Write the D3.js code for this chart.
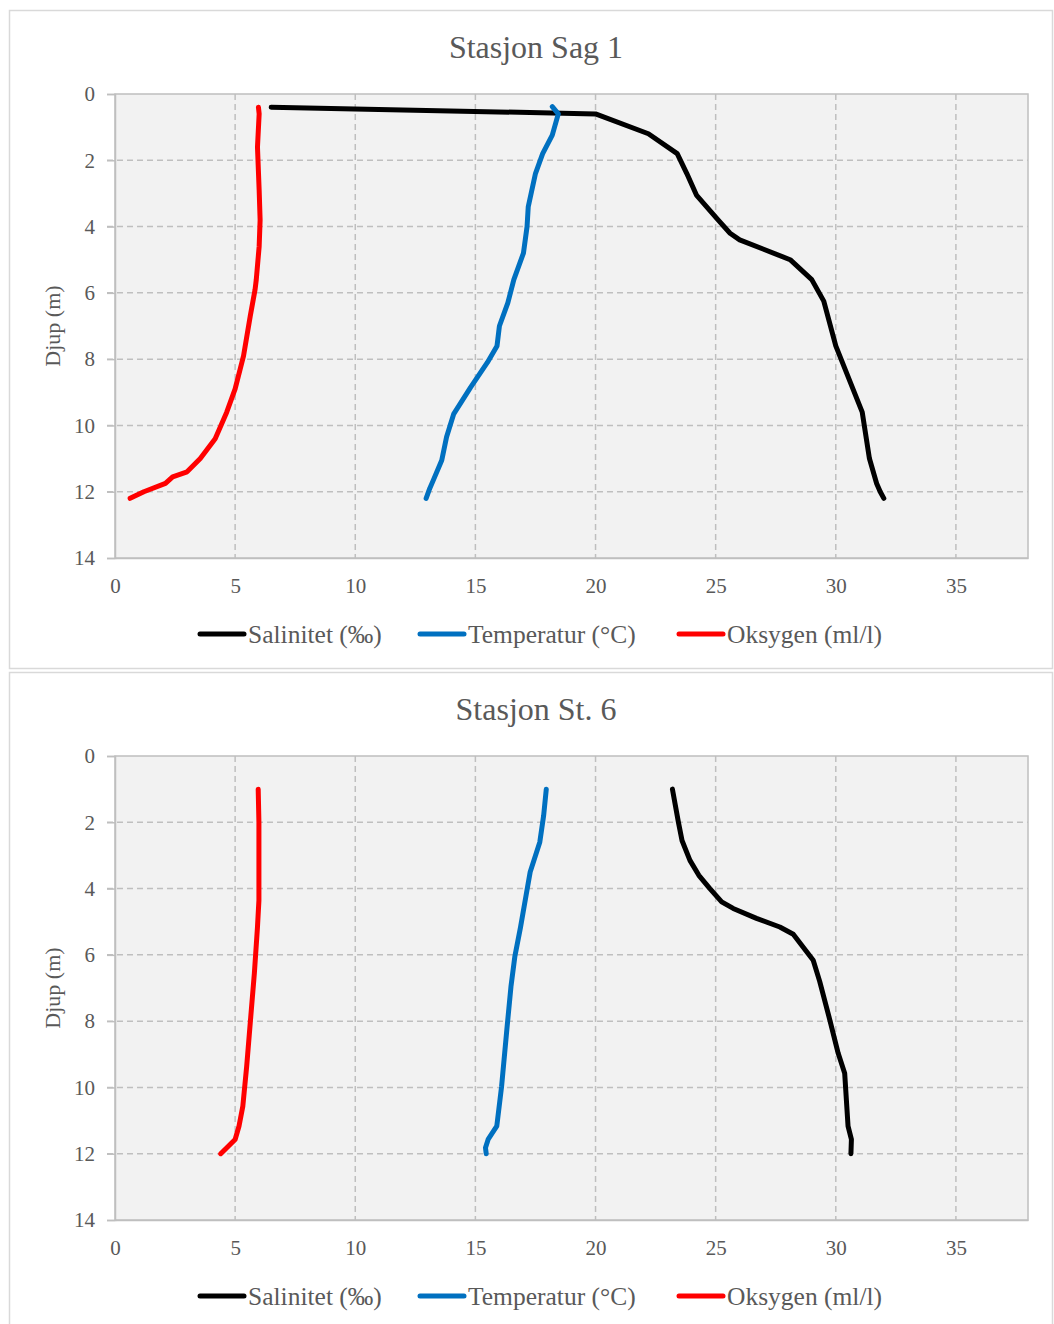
<!DOCTYPE html>
<html><head><meta charset="utf-8">
<script src="https://cdn.jsdelivr.net/npm/d3@7"></script>
<style>body{margin:0;background:#fff}svg{display:block}text{font-family:"Liberation Serif","Times New Roman",serif;fill:#595959}</style>
</head><body><svg id="c" width="1054" height="1324"></svg>
<script>
const titles = ["Stasjon Sag 1", "Stasjon St. 6"];
const seriesNames = ["Salinitet (‰)", "Temperatur (°C)", "Oksygen (ml/l)"];
const seriesColors = ["#000000", "#0070c0", "#ff0000"];
const xTicks = [0,5,10,15,20,25,30,35];
const yTicks = [0,2,4,6,8,10,12,14];
const yLabel = "Djup (m)";
// [value, depth]
const sag1Salinitet = [[6.5,0.4],[20.0,0.6],[22.2,1.2],[23.4,1.8],[23.8,2.4],[24.2,3.05],[25.1,3.8],[25.6,4.2],[26.0,4.4],[28.1,5.0],[29.0,5.6],[29.5,6.25],[30.0,7.6],[31.1,9.6],[31.4,11.0],[31.7,11.75],[31.85,12.0],[32.0,12.2]];
const sag1Temperatur = [[18.2,0.38],[18.45,0.6],[18.2,1.24],[17.8,1.8],[17.5,2.4],[17.2,3.4],[17.15,4.0],[17.0,4.8],[16.6,5.6],[16.35,6.3],[16.0,7.0],[15.9,7.6],[15.5,8.1],[14.8,8.85],[14.1,9.65],[13.8,10.35],[13.6,11.05],[13.25,11.65],[13.1,11.9],[12.95,12.2]];
const sag1Oksygen = [[5.97,0.4],[6.0,0.6],[5.93,1.6],[6.0,2.9],[6.04,3.8],[6.0,4.6],[5.88,5.6],[5.83,5.9],[5.63,6.7],[5.35,7.9],[5.0,8.9],[4.65,9.6],[4.17,10.4],[3.55,11.0],[3.0,11.4],[2.4,11.55],[2.1,11.75],[1.2,12.0],[0.63,12.2]];
const st6Salinitet = [[23.2,1.0],[23.45,2.0],[23.6,2.55],[23.93,3.15],[24.3,3.6],[24.76,4.0],[25.25,4.4],[25.73,4.6],[26.7,4.9],[27.67,5.16],[28.23,5.38],[29.06,6.16],[29.33,6.8],[29.75,7.96],[30.1,8.97],[30.37,9.57],[30.51,11.17],[30.65,11.57],[30.63,12.0]];
const st6Temperatur = [[17.95,1.0],[17.84,1.8],[17.68,2.6],[17.28,3.5],[17.12,4.16],[16.88,5.16],[16.64,6.06],[16.48,6.96],[16.32,8.17],[16.09,9.97],[15.89,11.17],[15.53,11.57],[15.42,11.82],[15.45,12.0]];
const st6Oksygen = [[5.96,1.0],[5.99,2.0],[5.99,4.36],[5.93,5.16],[5.8,6.56],[5.64,7.96],[5.48,9.37],[5.32,10.57],[5.16,11.17],[5.0,11.57],[4.4,12.0]];

const panels = [
  {title: titles[0], series: [sag1Salinitet, sag1Temperatur, sag1Oksygen], top: 10},
  {title: titles[1], series: [st6Salinitet, st6Temperatur, st6Oksygen], top: 672}
];
const svg = d3.select("#c");
panels.forEach(p => {
  const g = svg.append("g").attr("transform", `translate(0,${p.top})`);
  g.append("rect").attr("x",9.5).attr("y",0.5).attr("width",1043).attr("height",p.top===10?658:660)
    .attr("fill","#fff").attr("stroke","#d9d9d9").attr("stroke-width",1.5);
  const x = d3.scaleLinear().domain([0,38]).range([115,1028]);
  const y = d3.scaleLinear().domain([0,14]).range([84,548]);
  g.append("rect").attr("x",115).attr("y",84).attr("width",913).attr("height",464).attr("fill","#f2f2f2");
  // gridlines
  g.append("g").selectAll("line").data(xTicks.slice(1)).join("line")
    .attr("x1",d=>x(d)).attr("x2",d=>x(d)).attr("y1",84).attr("y2",548)
    .attr("stroke","#bfbfbf").attr("stroke-width",1.5).attr("stroke-dasharray","6,4");
  g.append("g").selectAll("line").data(yTicks.slice(1,-1)).join("line")
    .attr("x1",107).attr("x2",1028).attr("y1",d=>y(d)).attr("y2",d=>y(d))
    .attr("stroke","#bfbfbf").attr("stroke-width",1.5).attr("stroke-dasharray","6,4");
  // border
  g.append("rect").attr("x",115).attr("y",84).attr("width",913).attr("height",464)
    .attr("fill","none").attr("stroke","#bfbfbf").attr("stroke-width",1.5);
  // y axis
  const ya = d3.axisLeft(y).tickValues(yTicks).tickSize(8).tickPadding(12);
  const yg = g.append("g").attr("transform","translate(115,0)").call(ya);
  yg.select(".domain").attr("stroke","#bfbfbf").attr("stroke-width",1.5);
  yg.selectAll(".tick line").attr("stroke","#bfbfbf").attr("stroke-width",1.5);
  yg.selectAll(".tick text").attr("font-size",21).attr("fill","#595959").style("font-family","Liberation Serif");
  // x axis
  const xa = d3.axisBottom(x).tickValues(xTicks).tickSize(0).tickPadding(20);
  const xg = g.append("g").attr("transform","translate(0,548)").call(xa);
  xg.select(".domain").attr("stroke","#bfbfbf").attr("stroke-width",1.5);
  xg.selectAll(".tick text").attr("font-size",21).attr("fill","#595959").style("font-family","Liberation Serif");
  // title
  g.append("text").attr("x",536).attr("y",48).attr("text-anchor","middle").attr("font-size",32).text(p.title);
  // y label
  g.append("text").attr("transform",`translate(60,${(84+548)/2}) rotate(-90)`).attr("text-anchor","middle").attr("font-size",22).text(yLabel);
  // lines
  const line = d3.line().x(d=>x(d[0])).y(d=>y(d[1]));
  p.series.forEach((s,i)=>{
    g.append("path").datum(s).attr("d",line).attr("fill","none").attr("stroke",seriesColors[i])
      .attr("stroke-width",5).attr("stroke-linejoin","round").attr("stroke-linecap","round");
  });
  // legend
  const legX = [198,418,677];
  seriesNames.forEach((n,i)=>{
    g.append("line").attr("x1",legX[i]+2).attr("x2",legX[i]+46).attr("y1",624).attr("y2",624)
      .attr("stroke",seriesColors[i]).attr("stroke-width",5).attr("stroke-linecap","round");
    g.append("text").attr("x",legX[i]+50).attr("y",633).attr("font-size",25.5).text(n);
  });
});
</script></body></html>
